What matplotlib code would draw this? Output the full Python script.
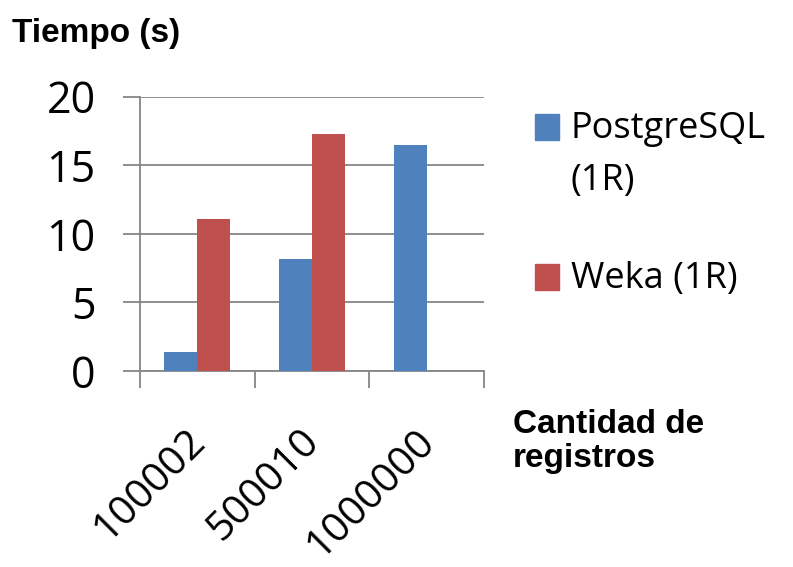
import numpy as np
import matplotlib.pyplot as plt
from matplotlib.patches import Rectangle
from matplotlib.transforms import ScaledTranslation

REGISTROS = ["100002", "500010", "1000000"]
SERIES = ["PostgreSQL\n(1R)", "Weka (1R)"]
POSTGRES = [1.4, 8.15, 16.45]
WEKA = [11.05, 17.3, 0]
COLORES = ["#4F81BD", "#C0504D"]
Y_TICKS = [0, 5, 10, 15, 20]

GRIS = "#868686"
FUENTE = "Open Sans"
FUENTE_BOLD = "Liberation Sans"

fig = plt.figure(figsize=(7.93, 5.67), dpi=100)
ax = fig.add_axes([140 / 793, 1 - 371 / 567, 344 / 793, 274.3 / 567])

x = np.arange(len(REGISTROS))
ancho = 0.288
for i, (valores, color) in enumerate(zip([POSTGRES, WEKA], COLORES)):
    ax.bar(x + (i - 0.5) * ancho, valores, ancho, color=color, zorder=3)

ax.set_xlim(-0.5, 2.5)
ax.set_ylim(0, 20)
ax.set_yticks(Y_TICKS)
ax.set_yticklabels([str(v) for v in Y_TICKS], fontsize=31, family=FUENTE)
ax.set_xticks(np.arange(-0.5, 3, 1))
ax.set_xticklabels([])
ax.set_xticks(x, minor=True)
ax.set_xticklabels(REGISTROS, minor=True, rotation=45, ha="right", va="baseline",
                   rotation_mode="anchor", fontsize=29.5, family=FUENTE)
ax.tick_params(axis="x", which="minor", length=0, pad=52)
ax.tick_params(axis="both", which="major", length=12, width=1.3, color=GRIS,
               direction="out")
ax.tick_params(axis="y", pad=20)
desplazar = ScaledTranslation(9 / 100, 0, fig.dpi_scale_trans)
for etiqueta in ax.get_xticklabels(minor=True):
    etiqueta.set_transform(etiqueta.get_transform() + desplazar)

ax.grid(axis="y", color=GRIS, linewidth=1.3, zorder=0)
for lado in ["top", "right"]:
    ax.spines[lado].set_visible(False)
for lado in ["left", "bottom"]:
    ax.spines[lado].set_color(GRIS)
    ax.spines[lado].set_linewidth(1.3)

# leyenda a mano
tops = [112, 262]
for nombre, color, top in zip(SERIES, COLORES, tops):
    fig.patches.append(Rectangle((535 / 793, 1 - (top + 28) / 567), 24 / 793, 26 / 567,
                                 transform=fig.transFigure, color=color))
    fig.text(571 / 793, 1 - (top - 1) / 567, nombre, fontsize=26, family=FUENTE,
             va="top", ha="left", linespacing=1.6)

fig.text(12 / 793, 1 - 42 / 567, "Tiempo (s)", fontsize=24, fontweight="bold",
         family=FUENTE_BOLD, va="baseline")
fig.text(513 / 793, 1 - 409 / 567, "Cantidad de\nregistros", fontsize=24,
         fontweight="bold", family=FUENTE_BOLD, va="top", linespacing=1.12)

fig.savefig("out.png", dpi=100)
